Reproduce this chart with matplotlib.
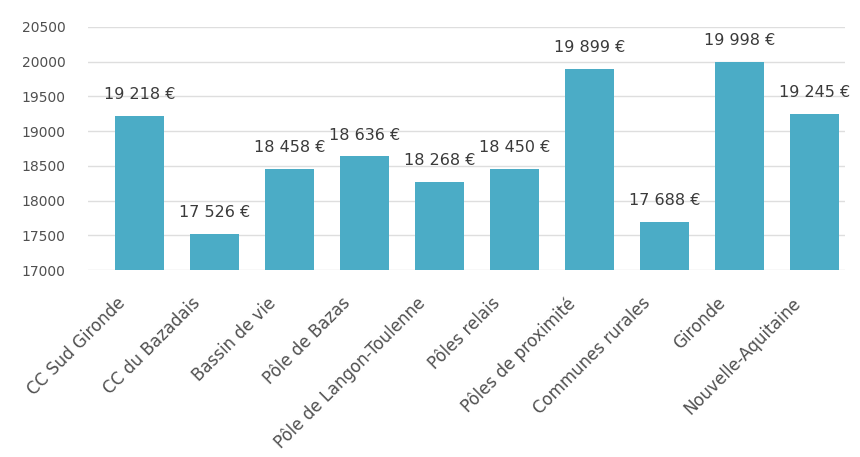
import matplotlib.pyplot as plt
from matplotlib.transforms import ScaledTranslation

plt.rcParams['font.family'] = ['DejaVu Sans']

territoires = ['CC Sud Gironde', 'CC du Bazadais', 'Bassin de vie', 'Pôle de Bazas',
               'Pôle de Langon-Toulenne', 'Pôles relais', 'Pôles de proximité',
               'Communes rurales', 'Gironde', 'Nouvelle-Aquitaine']
revenus = [19218, 17526, 18458, 18636, 18268, 18450, 19899, 17688, 19998, 19245]
graduations = [17000, 17500, 18000, 18500, 19000, 19500, 20000, 20500]

fig = plt.figure(figsize=(8.6, 4.57), dpi=100)
ax = fig.add_axes([0.1023, 0.409, 0.8803, 0.532])

x = range(len(territoires))
ax.bar(x, revenus, width=0.66, color='#4bacc6', zorder=3)

for i, v in zip(x, revenus):
    txt = '{:,}'.format(v).replace(',', ' ') + ' €'
    ax.annotate(txt, (i, v), xytext=(0, 10), textcoords='offset points',
                ha='center', va='bottom', fontsize=11.5, color='#3a3a3a')

ax.set_ylim(17000, 20500)
ax.set_xlim(-0.69, 9.41)
ax.set_yticks(graduations)
ax.set_xticks(list(x))
ax.set_xticklabels(territoires, rotation=45, ha='right', va='center',
                   rotation_mode='anchor', fontsize=12)
ax.tick_params(axis='both', length=0, colors='#505050')
ax.tick_params(axis='y', pad=16, labelsize=10)
ax.tick_params(axis='x', pad=22)
# décale les étiquettes de catégories vers la gauche
decalage = ScaledTranslation(-12 / 72, 0, fig.dpi_scale_trans)
for lab in ax.get_xticklabels():
    lab.set_transform(lab.get_transform() + decalage)
ax.grid(axis='y', color='#dedede', linewidth=1, zorder=0)
for s in ax.spines.values():
    s.set_visible(False)

fig.savefig('out.png', dpi=100)
